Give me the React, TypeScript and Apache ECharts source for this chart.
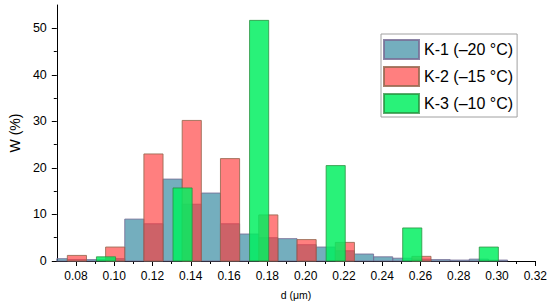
import React, { useEffect, useRef } from "react";
import * as echarts from "echarts";

// ---- data ----
const seriesNames = ["K-1 (–20 °C)", "K-2 (–15 °C)", "K-3 (–10 °C)"];
const binWidth = 0.01;

const k1Centers = [0.0705, 0.0805, 0.0905, 0.1005, 0.1105, 0.1205, 0.1305, 0.1405, 0.1505, 0.1605, 0.1705, 0.1805, 0.1905, 0.2005, 0.2105, 0.2205, 0.2305, 0.2405, 0.2505, 0.2605, 0.2705, 0.2805, 0.2905, 0.3005];
const k1Values = [0.5, 0.3, 0.3, 0.5, 9.0, 8.0, 17.6, 12.2, 14.6, 8.0, 5.8, 5.0, 4.8, 3.5, 3.0, 2.2, 1.5, 0.9, 0.6, 0.4, 0.3, 0.2, 0.4, 0.2];

const k2Centers = [0.0805, 0.1005, 0.1205, 0.1405, 0.1605, 0.1805, 0.2005, 0.2205, 0.2605];
const k2Values = [1.2, 3.0, 23.0, 30.2, 22.0, 9.9, 4.6, 4.0, 1.0];

const k3Centers = [0.0957, 0.1357, 0.1757, 0.2157, 0.2557, 0.2957];
const k3Values = [0.9, 15.7, 51.7, 20.5, 7.1, 3.0];

const xMajorTicks = [0.08, 0.1, 0.12, 0.14, 0.16, 0.18, 0.2, 0.22, 0.24, 0.26, 0.28, 0.3, 0.32];
const xMinorTicks = [0.09, 0.11, 0.13, 0.15, 0.17, 0.19, 0.21, 0.23, 0.25, 0.27, 0.29, 0.31];
const yMajorTicks = [0, 10, 20, 30, 40, 50];
const yMinorTicks = [5, 15, 25, 35, 45];

// ---- styles ----
const fills = ["rgba(30,125,150,0.62)", "rgba(255,55,55,0.64)", "rgba(0,240,95,0.84)"];
const strokes = ["rgba(120,110,150,0.85)", "rgba(150,105,80,0.85)", "rgba(40,140,60,0.75)"];
const FONT = "'Liberation Sans', Arial, sans-serif";

function makeRender(fill: string, stroke: string) {
  return (params: any, api: any) => {
    const c = api.value(0);
    const v = api.value(1);
    const p0 = api.coord([c - binWidth / 2, v]);
    const p1 = api.coord([c + binWidth / 2, 0]);
    const cs = params.coordSys;
    const rect = echarts.graphic.clipRectByRect(
      { x: p0[0], y: p0[1], width: p1[0] - p0[0], height: p1[1] - p0[1] },
      { x: cs.x, y: cs.y, width: cs.width, height: cs.height }
    );
    if (!rect) return null;
    return {
      type: "rect",
      shape: rect,
      style: { fill, stroke, lineWidth: 1 },
    };
  };
}

export default function App() {
  const ref = useRef<HTMLDivElement>(null);
  useEffect(() => {
    if (!ref.current) return;
    const chart = echarts.init(ref.current, null, { renderer: "svg" });
    const groups = [
      [k1Centers, k1Values],
      [k2Centers, k2Values],
      [k3Centers, k3Values],
    ];
    const series = groups.map(([cs, vs], i) => ({
      type: "custom",
      name: seriesNames[i],
      xAxisIndex: 0,
      yAxisIndex: 0,
      data: (cs as number[]).map((c, j) => [c, (vs as number[])[j]]),
      encode: { x: 0, y: 1 },
      itemStyle: { color: fills[i], borderColor: strokes[i], borderWidth: 1 },
      renderItem: makeRender(fills[i], strokes[i]),
    }));
    chart.setOption({
      animation: false,
      textStyle: { fontFamily: FONT },
      grid: { left: 47, right: 13, top: 5, bottom: 44 },
      legend: {
        data: seriesNames,
        orient: "vertical",
        left: 381,
        top: 34,
        padding: [5, 4, 3, 2],
        itemGap: 6,
        itemWidth: 35,
        itemHeight: 19,
        icon: "rect",
        borderColor: "#a0a0a0",
        borderWidth: 1,
        selectedMode: false,
        textStyle: { fontSize: 16, color: "#000", fontFamily: FONT },
      },
      xAxis: [
        {
          type: "value",
          min: 0.07,
          max: 0.32,
          name: "d (μm)",
          nameLocation: "middle",
          nameGap: 28,
          nameTextStyle: { fontSize: 10.5, color: "#000", fontFamily: FONT },
          axisLine: { lineStyle: { color: "#000", width: 1 } },
          axisTick: { customValues: xMajorTicks, length: 5, lineStyle: { color: "#000" } },
          axisLabel: {
            customValues: xMajorTicks,
            formatter: (v: number) => v.toFixed(2),
            fontSize: 12,
            color: "#000",
            margin: 9,
            fontFamily: FONT,
          },
          splitLine: { show: false },
        },
        {
          type: "value",
          min: 0.07,
          max: 0.32,
          position: "bottom",
          axisLine: { show: false },
          axisTick: { customValues: xMinorTicks, length: 3, lineStyle: { color: "#000" } },
          axisLabel: { show: false },
          splitLine: { show: false },
        },
      ],
      yAxis: [
        {
          type: "value",
          min: 0,
          max: 55,
          name: "W (%)",
          nameLocation: "middle",
          nameRotate: 90,
          nameGap: 30,
          nameTextStyle: { fontSize: 14, color: "#000", fontFamily: FONT },
          axisLine: { show: true, lineStyle: { color: "#000", width: 1 } },
          axisTick: { show: true, customValues: yMajorTicks, length: 5, lineStyle: { color: "#000" } },
          axisLabel: {
            customValues: yMajorTicks,
            fontSize: 12.5,
            color: "#000",
            margin: 10,
            fontFamily: FONT,
          },
          splitLine: { show: false },
        },
        {
          type: "value",
          min: 0,
          max: 55,
          position: "left",
          axisLine: { show: false },
          axisTick: { show: true, customValues: yMinorTicks, length: 3, lineStyle: { color: "#000" } },
          axisLabel: { show: false },
          splitLine: { show: false },
        },
      ],
      series,
    });
    return () => chart.dispose();
  }, []);
  return (
    <div
      ref={ref}
      style={{ position: "fixed", left: 0, top: 0, width: 550, height: 305, background: "#fff" }}
    />
  );
}
